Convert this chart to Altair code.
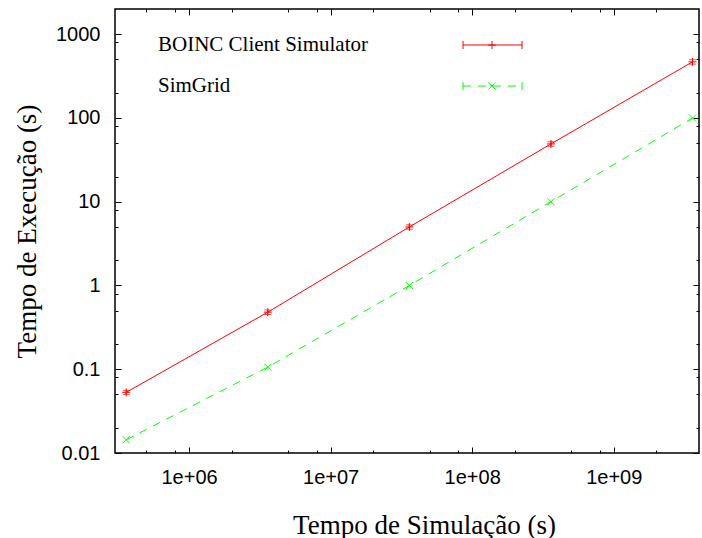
import altair as alt
import pandas as pd

# Simulated time span (s) and wall-clock execution time (s) for both simulators
sim_time = [3.6e5, 3.6e6, 3.6e7, 3.6e8, 3.6e9]
boinc_exec = [0.053, 0.48, 5.0, 49.0, 468.0]
boinc_err = [0.003, 0.03, 0.3, 3.0, 28.0]
simgrid_exec = [0.0144, 0.106, 1.0, 10.0, 100.0]

series_names = ["BOINC Client Simulator", "SimGrid"]
series_colors = ["#ff0000", "#00ff00"]

# Tick positions (log axes, minor ticks at 2, 5, 8 of each decade)
x_major = [1e6, 1e7, 1e8, 1e9]
x_minor = [5e5, 8e5, 2e6, 5e6, 8e6, 2e7, 5e7, 8e7, 2e8, 5e8, 8e8, 2e9]
y_major = [0.01, 0.1, 1, 10, 100, 1000]
y_minor = [0.02, 0.05, 0.08, 0.2, 0.5, 0.8, 2, 5, 8, 20, 50, 80, 200, 500, 800]

W, H = 584, 444
MAJOR, MINOR = 6, 3

boinc_df = pd.DataFrame({
    "t": sim_time,
    "v": boinc_exec,
    "lo": [v - e for v, e in zip(boinc_exec, boinc_err)],
    "hi": [v + e for v, e in zip(boinc_exec, boinc_err)],
})
simgrid_df = pd.DataFrame({"t": sim_time, "v": simgrid_exec})

xs = alt.Scale(type="log", domain=[3e5, 4e9], nice=False)
ys = alt.Scale(type="log", domain=[0.01, 2000], nice=False)

PLUS = "M-1,0L1,0M0,-1L0,1"
CROSS = "M-1,-1L1,1M-1,1L1,-1"


def tick_axis(orient, values, size, **kw):
    # inward-pointing ticks: shift the axis into the plot by the tick length
    return alt.Axis(orient=orient, values=values, offset=-size, tickSize=size,
                    domain=False, grid=False, tickColor="#000", tickWidth=1, **kw)


label_style = dict(labelFont="Liberation Sans", labelFontSize=20, labelColor="#000",
                   titleFont="Liberation Serif", titleFontSize=27,
                   titleFontWeight="normal", titleColor="#000")

ax_bottom = tick_axis("bottom", x_major, MAJOR, labels=True,
                      labelExpr="replace(format(datum.value, '.0e'), 'e+', 'e+0')",
                      labelBaseline="alphabetic", labelPadding=30,
                      title="Tempo de Simulação (s)", titleX=309, titleY=86,
                      titleBaseline="alphabetic", titleAlign="center", **label_style)
ax_left = tick_axis("left", y_major, MAJOR, labels=True, format="~g",
                    labelPadding=15, title="Tempo de Execução (s)",
                    titleX=-86, titleY=222, titleAngle=270,
                    titleBaseline="alphabetic", titleAlign="center", **label_style)
ax_bottom_minor = tick_axis("bottom", x_minor, MINOR, labels=False, title=None)
ax_left_minor = tick_axis("left", y_minor, MINOR, labels=False, title=None)
ax_top = tick_axis("top", x_major, MAJOR, labels=False, title=None)
ax_right = tick_axis("right", y_major, MAJOR, labels=False, title=None)
ax_top_minor = tick_axis("top", x_minor, MINOR, labels=False, title=None)
ax_right_minor = tick_axis("right", y_minor, MINOR, labels=False, title=None)

red, green = series_colors

red_line = alt.Chart(boinc_df).mark_line(color=red, strokeWidth=1).encode(
    x=alt.X("t:Q", scale=xs, axis=ax_bottom),
    y=alt.Y("v:Q", scale=ys, axis=ax_left),
)
green_line = alt.Chart(simgrid_df).mark_line(
    color=green, strokeWidth=1, strokeDash=[8, 7]).encode(
    x=alt.X("t:Q", scale=xs, axis=ax_bottom_minor),
    y=alt.Y("v:Q", scale=ys, axis=ax_left_minor),
)
red_err = alt.Chart(boinc_df).mark_rule(color=red, strokeWidth=1).encode(
    x=alt.X("t:Q", scale=xs, axis=None),
    y=alt.Y("lo:Q", scale=ys, axis=None),
    y2="hi:Q",
)
red_cap_lo = alt.Chart(boinc_df).mark_tick(
    color=red, orient="horizontal", size=7, thickness=1).encode(
    x=alt.X("t:Q", scale=xs, axis=None),
    y=alt.Y("lo:Q", scale=ys, axis=None),
)
red_cap_hi = alt.Chart(boinc_df).mark_tick(
    color=red, orient="horizontal", size=7, thickness=1).encode(
    x=alt.X("t:Q", scale=xs, axis=None),
    y=alt.Y("hi:Q", scale=ys, axis=None),
)
red_pts = alt.Chart(boinc_df).mark_point(
    shape=PLUS, size=64, filled=False, color=red, strokeWidth=1, opacity=1).encode(
    x=alt.X("t:Q", scale=xs, axis=ax_top),
    y=alt.Y("v:Q", scale=ys, axis=ax_right),
)
green_pts = alt.Chart(simgrid_df).mark_point(
    shape=CROSS, size=49, filled=False, color=green, strokeWidth=1, opacity=1).encode(
    x=alt.X("t:Q", scale=xs, axis=ax_top_minor),
    y=alt.Y("v:Q", scale=ys, axis=ax_right_minor),
)

# Key in the upper left: label, then a sample of the line with its marker
key_layers = []
key_rows = [36, 77]
key_marks = [(PLUS, 64, None), (CROSS, 49, [8, 7])]
for name, color, ky, (shape, size, dash) in zip(series_names, series_colors, key_rows, key_marks):
    kdf = pd.DataFrame({"name": [name]})
    key_layers.append(alt.Chart(kdf).mark_text(
        align="left", baseline="middle", font="Liberation Serif", fontSize=21,
        color="#000").encode(x=alt.value(43), y=alt.value(ky), text="name:N"))
    line_kw = dict(color=color, strokeWidth=1)
    if dash:
        line_kw["strokeDash"] = dash
    key_layers.append(alt.Chart(kdf).mark_rule(**line_kw).encode(
        x=alt.value(348), x2=alt.value(407), y=alt.value(ky)))
    for cx in (348, 407):
        key_layers.append(alt.Chart(kdf).mark_rule(color=color, strokeWidth=1).encode(
            x=alt.value(cx), y=alt.value(ky - 4), y2=alt.value(ky + 4)))
    key_layers.append(alt.Chart(kdf).mark_point(
        shape=shape, size=size, filled=False, color=color, strokeWidth=1, opacity=1).encode(
        x=alt.value(377), y=alt.value(ky)))

chart = alt.layer(
    red_line, green_line, red_err, red_cap_lo, red_cap_hi, red_pts, green_pts, *key_layers
).resolve_axis(
    x="independent", y="independent"
).properties(
    width=W, height=H, autosize="none",
    padding={"left": 115, "top": 9, "right": 3, "bottom": 85},
    background="#ffffff",
).configure_view(stroke="#000", strokeWidth=1.5)

chart.save("out.html", embed_options={"renderer": "svg", "actions": False})
